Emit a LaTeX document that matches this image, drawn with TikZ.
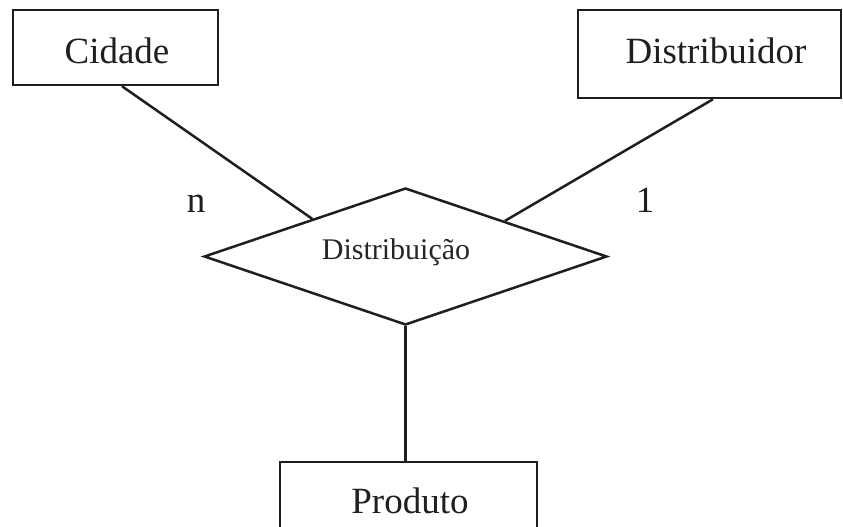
\documentclass[tikz,border=0pt]{standalone}
\usepackage{fontspec}
\setmainfont{Liberation Serif}
\usetikzlibrary{shapes.geometric,calc}

\begin{document}
\begin{tikzpicture}[x=1bp,y=-1bp,
  ink/.style={draw=black!88,line width=2.5bp,line join=miter},
  entity/.style={ink,rectangle,fill=white,inner sep=0pt},
  relation/.style={ink,diamond,fill=white,inner sep=0pt,
    minimum width=403bp,minimum height=137bp},
  bigtext/.style={anchor=base,inner sep=0pt,text=black!88,
    font=\fontsize{37bp}{44bp}\selectfont},
  smalltext/.style={anchor=base,inner sep=0pt,text=black!85,
    font=\fontsize{30bp}{36bp}\selectfont},
  link/.style={draw=black!88,line width=2.5bp}]

  % canvas
  \useasboundingbox (0,0) rectangle (843,527);
  \clip (0,0) rectangle (843,527);
  \fill[white] (0,0) rectangle (843,527);

  % entities
  \node[entity,minimum width=205bp,minimum height=75bp] (cidade) at (115.5,47.5) {};
  \node[entity,minimum width=263bp,minimum height=88bp] (dist) at (709.5,54) {};
  \node[entity,minimum width=257bp,minimum height=100bp] (prod) at (408.5,512) {};

  % relationship
  \node[relation] (rel) at (405.5,256.5) {};

  % connectors
  \draw[link] ([xshift=6.5bp]cidade.south) -- ($(rel.west)!0.54!(rel.north)$);
  \draw[link] ([xshift=3.5bp]dist.south) -- ($(rel.north)!0.49!(rel.east)$);
  \draw[link] (rel.south) -- (rel.south |- prod.north);

  % labels
  \node[bigtext] (tcidade) at (117,64) {Cidade};
  \node[bigtext] (tdist) at (716,64) {Distribuidor};
  \node[bigtext] (tprod) at (410,513) {Produto};
  \node[smalltext] (trel) at (396,260) {Distribuição};
  \node[bigtext] (cardn) at (196,213) {n};
  \node[bigtext] (card1) at (645,213) {1};
\end{tikzpicture}
\end{document}
